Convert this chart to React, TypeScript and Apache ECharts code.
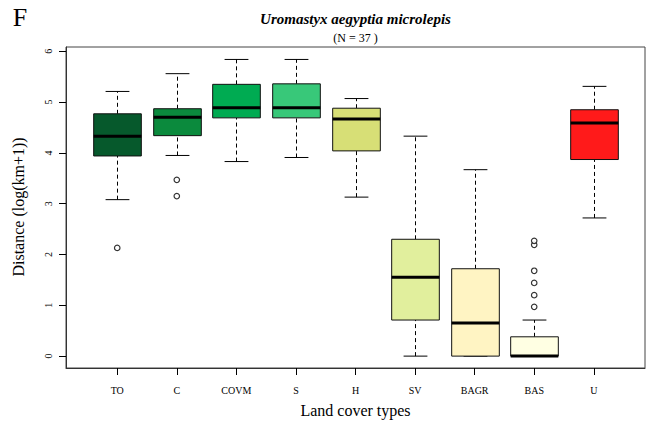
import React, { useEffect, useRef } from "react";
import * as echarts from "echarts";

const categories = ["TO", "C", "COVM", "S", "H", "SV", "BAGR", "BAS", "U"];
const lowerWhisker = [3.08, 3.95, 3.83, 3.91, 3.13, 0.0, 0.0, 0.0, 2.72];
const q1 = [3.94, 4.34, 4.69, 4.69, 4.04, 0.71, 0.0, 0.0, 3.87];
const median = [4.33, 4.70, 4.89, 4.89, 4.67, 1.55, 0.65, 0.0, 4.59];
const q3 = [4.77, 4.87, 5.35, 5.36, 4.88, 2.30, 1.72, 0.38, 4.85];
const upperWhisker = [5.21, 5.56, 5.84, 5.84, 5.07, 4.33, 3.67, 0.71, 5.31];
const outliers: number[][] = [[2.13], [3.47, 3.15], [], [], [], [], [], [0.97, 1.2, 1.44, 1.68, 2.19, 2.27], []];
const boxColors = ["#06592c", "#0b8a3d", "#00ab52", "#38c879", "#d7df76", "#e1ef9d", "#fff4c3", "#ffffe3", "#ff1a1a"];
const yTicks = [0, 1, 2, 3, 4, 5, 6];

const FONT = "Liberation Serif";

export default function App() {
  const ref = useRef<HTMLDivElement>(null);
  useEffect(() => {
    const chart = echarts.init(ref.current!, null, { renderer: "svg" });
    const boxData = categories.map((_, i) => [i + 1, lowerWhisker[i], q1[i], median[i], q3[i], upperWhisker[i]]);
    const outlierData: number[][] = [];
    outliers.forEach((arr, i) => arr.forEach((v) => outlierData.push([i + 1, v])));
    const catTicks = categories.map((_, i) => i + 1);

    const txt = (text: string, x: number, y: number, size: number, extra: any = {}, rotation = 0) => ({
      type: "text",
      x,
      y,
      rotation,
      style: {
        text,
        fontFamily: FONT,
        fontSize: size,
        fill: "#000",
        align: "center",
        verticalAlign: "middle",
        ...extra,
      },
    });

    chart.setOption({
      animation: false,
      backgroundColor: "#ffffff",
      grid: {
        left: 66,
        right: 1,
        top: 47,
        bottom: 55,
        show: true,
        borderColor: "#444",
        borderWidth: 1,
        outerBoundsMode: "none",
        containLabel: false,
      },
      xAxis: {
        type: "value",
        min: 0.14,
        max: 9.86,
        splitLine: { show: false },
        axisLine: { show: true, onZero: false, lineStyle: { color: "#333", width: 1 } },
        axisTick: { show: true, customValues: catTicks, length: 7, lineStyle: { color: "#000" } },
        axisLabel: {
          customValues: catTicks,
          formatter: (v: number) => categories[Math.round(v) - 1] ?? "",
          fontFamily: FONT,
          fontSize: 10,
          color: "#000",
          margin: 17,
        },
      },
      yAxis: {
        type: "value",
        min: -0.234,
        max: 6.085,
        splitLine: { show: false },
        axisLine: { show: true, onZero: false, lineStyle: { color: "#333", width: 1 } },
        axisTick: { show: true, customValues: yTicks, length: 7, lineStyle: { color: "#000" } },
        axisLabel: {
          customValues: yTicks,
          rotate: 90,
          fontFamily: FONT,
          fontSize: 10,
          color: "#000",
          margin: 13,
        },
      },
      graphic: [
        txt("F", 20, 17, 26),
        txt("Uromastyx aegyptia microlepis", 355.5, 19, 15, { fontStyle: "italic", fontWeight: "bold" }),
        txt("(N = 37 )", 355.5, 38, 12),
        txt("Land cover types", 355.5, 410, 16),
        txt("Distance (log(km+1))", 18, 207, 16, {}, Math.PI / 2),
      ],
      series: [
        {
          type: "custom",
          data: boxData,
          encode: { x: 0, y: [1, 2, 3, 4, 5] },
          renderItem: (params: any, api: any) => {
            const x = api.value(0);
            const lo = api.value(1);
            const a = api.value(2);
            const m = api.value(3);
            const b = api.value(4);
            const hi = api.value(5);
            const unit = api.size([1, 0])[0];
            const hw = unit * 0.4;
            const cw = unit * 0.2;
            const c = (v: number) => api.coord([x, v]);
            const pLo = c(lo), pA = c(a), pM = c(m), pB = c(b), pHi = c(hi);
            const cx = Math.round(pM[0]) + 0.5;
            const dash = { stroke: "#000", lineWidth: 1, lineDash: [4, 3] };
            const solid = { stroke: "#000", lineWidth: 1 };
            return {
              type: "group",
              children: [
                { type: "line", shape: { x1: cx, y1: pB[1], x2: cx, y2: pHi[1] }, style: dash },
                { type: "line", shape: { x1: cx, y1: pLo[1], x2: cx, y2: pA[1] }, style: dash },
                { type: "line", shape: { x1: cx - cw, y1: pHi[1], x2: cx + cw, y2: pHi[1] }, style: solid },
                { type: "line", shape: { x1: cx - cw, y1: pLo[1], x2: cx + cw, y2: pLo[1] }, style: solid },
                {
                  type: "rect",
                  shape: { x: cx - hw, y: pB[1], width: hw * 2, height: pA[1] - pB[1] },
                  style: { fill: boxColors[params.dataIndex], stroke: "#111", lineWidth: 1 },
                },
                {
                  type: "line",
                  shape: { x1: cx - hw, y1: pM[1], x2: cx + hw, y2: pM[1] },
                  style: { stroke: "#000", lineWidth: 3 },
                },
              ],
            };
          },
          z: 2,
        },
        {
          type: "scatter",
          data: outlierData,
          symbol: "circle",
          symbolSize: 5.5,
          itemStyle: { color: "#fff", borderColor: "#000", borderWidth: 1.2 },
          z: 3,
        },
      ],
    });
    return () => chart.dispose();
  }, []);
  return (
    <div
      ref={ref}
      style={{ position: "fixed", left: 0, top: 0, width: 646, height: 423, background: "#fff" }}
    />
  );
}
